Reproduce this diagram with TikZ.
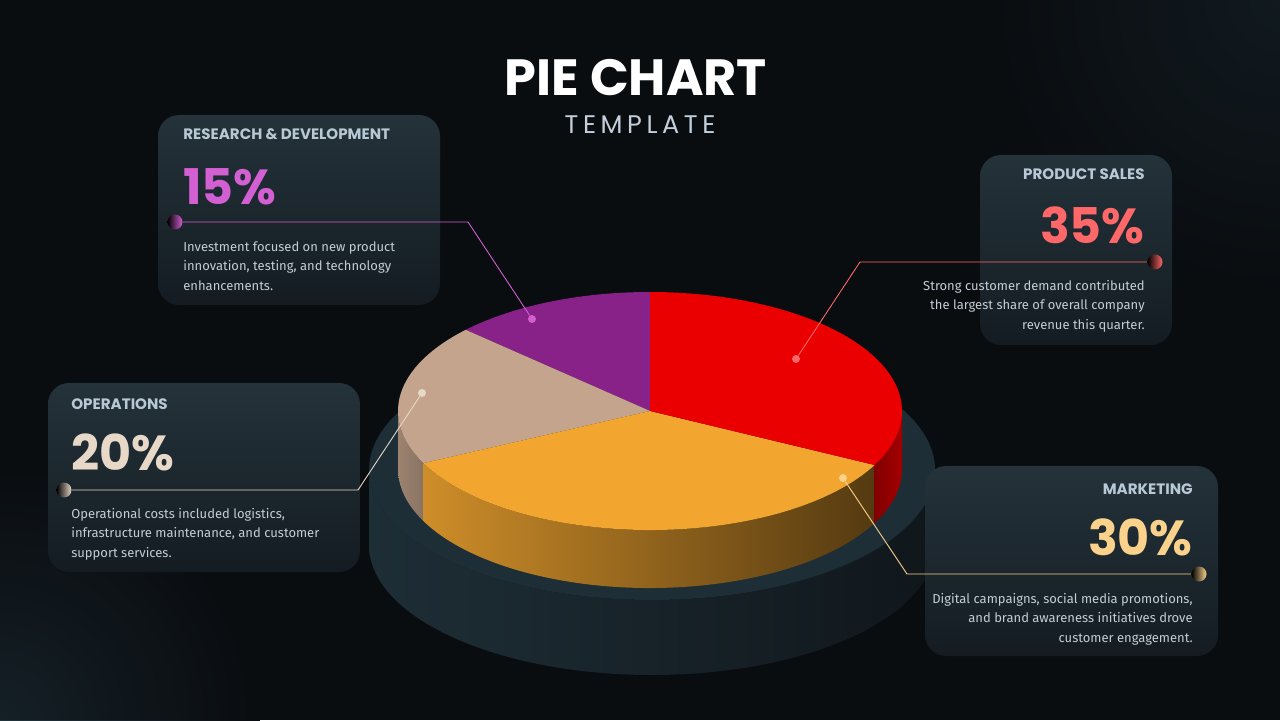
\documentclass[tikz,border=0pt]{standalone}
\usepackage{fontspec}
\usepackage{tikz}
\usetikzlibrary{positioning,calc}
\newfontfamily\headfont{Poppins}
\newfontfamily\bodyfont{Fira Sans}
\definecolor{bgdark}{RGB}{10,13,16}
\definecolor{bgglow}{RGB}{32,52,62}
\definecolor{panelhi}{RGB}{36,50,58}
\definecolor{panello}{RGB}{20,28,34}
\definecolor{captext}{RGB}{184,200,212}
\definecolor{bodytext}{RGB}{196,204,212}
\definecolor{rdcol}{RGB}{210,96,210}
\definecolor{salescol}{RGB}{255,104,104}
\definecolor{opscol}{RGB}{232,216,200}
\definecolor{mktcol}{RGB}{250,210,140}
\definecolor{piepurple}{RGB}{136,34,136}
\definecolor{piebeige}{RGB}{196,164,140}
\definecolor{pieorange}{RGB}{242,166,48}
\definecolor{piered}{RGB}{234,0,0}
\definecolor{baserim}{RGB}{30,46,54}

\begin{document}
\begin{tikzpicture}[x=0.02cm,y=0.02cm]
   \tikzset{
     panel/.style    = { rounded corners = 12pt,
                         top color       = panelhi,
                         bottom color    = panello },
     captxt/.style   = { font = \headfont\bfseries\fontsize{8.6}{11}\selectfont,
                         text = captext, inner sep = 0pt },
     pcttxt/.style   = { font = \headfont\bfseries\fontsize{28}{30}\selectfont,
                         inner sep = 0pt },
     bodytxt/.style  = { font = \bodyfont\fontsize{7.4}{11.1}\selectfont,
                         text = bodytext, inner sep = 0pt },
     enddot/.style   = { circle, minimum size = 0.3cm, inner sep = 0pt },
     pindot/.style   = { circle, minimum size = 0.16cm, inner sep = 0pt },
     leader/.style   = { line width = 0.5pt },
  }

  % background
  \useasboundingbox (0,0) rectangle (1280,720);
  \clip (0,0) rectangle (1280,720);
  \fill[bgdark] (0,0) rectangle (1280,720);
  \shade[inner color = bgglow, outer color = bgdark] (0,0) circle (260);
  \shade[inner color = bgglow!70!bgdark, outer color = bgdark] (1280,720) circle (300);
  \fill[bgdark, opacity = 0.5] (0,0) rectangle (1280,720);

  % title
  \node[font = \headfont\bfseries\fontsize{29}{32}\selectfont, text = white,
        anchor = base, inner sep = 0pt] (Title) at (636,624) {PIE CHART};
  \node[font = \headfont\addfontfeature{LetterSpace=18}\fontsize{14.5}{16}\selectfont,
        text = captext!85!white, anchor = base, inner sep = 0pt] (Sub) at (640,586) {TEMPLATE};

  % base disc
  \shade[left color = baserim, right color = bgdark!70!baserim]
    (369,250) arc[start angle = 180, end angle = 360, x radius = 283, y radius = 130]
    -- ++(0,-75) arc[start angle = 360, end angle = 180, x radius = 283, y radius = 130] -- cycle;
  \fill[baserim] (652,250) ellipse (283 and 130);

  % pie sides
  \shade[left color = piebeige!80!black, right color = piebeige!70!black]
    ($(650,309)+(180:252 and 119)$) arc[start angle = 180, end angle = 206, x radius = 252, y radius = 119]
    -- ++(0,-58) arc[start angle = 206, end angle = 180, x radius = 252, y radius = 119] -- cycle;
  \shade[left color = pieorange!85!black, right color = pieorange!35!black]
    ($(650,309)+(206:252 and 119)$) arc[start angle = 206, end angle = 333, x radius = 252, y radius = 119]
    -- ++(0,-58) arc[start angle = 333, end angle = 206, x radius = 252, y radius = 119] -- cycle;
  \shade[left color = piered!55!black, right color = piered!70!black]
    ($(650,309)+(333:252 and 119)$) arc[start angle = 333, end angle = 360, x radius = 252, y radius = 119]
    -- ++(0,-58) arc[start angle = 360, end angle = 333, x radius = 252, y radius = 119] -- cycle;

  % pie top
  \coordinate (Hub) at (650,309);
  \fill[piepurple] (Hub) -- ++(90:252 and 119) arc[start angle = 90, end angle = 137, x radius = 252, y radius = 119] -- cycle;
  \fill[piebeige]  (Hub) -- ++(137:252 and 119) arc[start angle = 137, end angle = 206, x radius = 252, y radius = 119] -- cycle;
  \fill[pieorange] (Hub) -- ++(206:252 and 119) arc[start angle = 206, end angle = 333, x radius = 252, y radius = 119] -- cycle;
  \fill[piered]    (Hub) -- ++(-27:252 and 119) arc[start angle = -27, end angle = 90, x radius = 252, y radius = 119] -- cycle;

  % panels
  \path[panel] (158,415) rectangle (440,605);
  \path[panel] (980,375) rectangle (1172,565);
  \path[panel] (48,148) rectangle (360,337);
  \path[panel] (925,64) rectangle (1218,254);

  % research & development
  \node[captxt, anchor = base west] (RDcap) at (183,580) {RESEARCH \& DEVELOPMENT};
  \node[pcttxt, anchor = base west, text = rdcol] (RDpct) at (183,515) {15\%};
  \node[bodytxt, anchor = north west, align = left] (RDbody) at (183,479)
    {Investment focused on new product\\innovation, testing, and technology\\enhancements.};
  \node[enddot, left color = black, right color = rdcol] (RDdot) at (175,498) {};
  \node[pindot, fill = rdcol] (RDpin) at (532,401) {};
  \coordinate (RDbend) at (468,498);
  \draw[leader, rdcol] (RDdot) -- (RDbend) -- (RDpin);

  % product sales
  \node[captxt, anchor = base east] (PScap) at (1145,540) {PRODUCT SALES};
  \node[pcttxt, anchor = base east, text = salescol] (PSpct) at (1145,476) {35\%};
  \node[bodytxt, anchor = north east, align = right] (PSbody) at (1145,440)
    {Strong customer demand contributed\\the largest share of overall company\\revenue this quarter.};
  \node[enddot, left color = black, right color = salescol] (PSdot) at (1155,458) {};
  \node[pindot, fill = salescol] (PSpin) at (796,361) {};
  \coordinate (PSbend) at (860,458);
  \draw[leader, salescol] (PSdot) -- (PSbend) -- (PSpin);

  % operations
  \node[captxt, anchor = base west] (OPcap) at (71,310) {OPERATIONS};
  \node[pcttxt, anchor = base west, text = opscol] (OPpct) at (71,249) {20\%};
  \node[bodytxt, anchor = north west, align = left] (OPbody) at (71,212)
    {Operational costs included logistics,\\infrastructure maintenance, and customer\\support services.};
  \node[enddot, left color = black, right color = opscol] (OPdot) at (64,230) {};
  \node[pindot, fill = opscol] (OPpin) at (422,327) {};
  \coordinate (OPbend) at (358,230);
  \draw[leader, opscol] (OPdot) -- (OPbend) -- (OPpin);

  % marketing
  \node[captxt, anchor = base east] (MKcap) at (1193,225) {MARKETING};
  \node[pcttxt, anchor = base east, text = mktcol] (MKpct) at (1193,165) {30\%};
  \node[bodytxt, anchor = north east, align = right] (MKbody) at (1193,127)
    {Digital campaigns, social media promotions,\\and brand awareness initiatives drove\\customer engagement.};
  \node[enddot, left color = black, right color = mktcol] (MKdot) at (1199,146) {};
  \node[pindot, fill = mktcol] (MKpin) at (843,242) {};
  \coordinate (MKbend) at (907,146);
  \draw[leader, mktcol] (MKdot) -- (MKbend) -- (MKpin);

\end{tikzpicture}
\end{document}
